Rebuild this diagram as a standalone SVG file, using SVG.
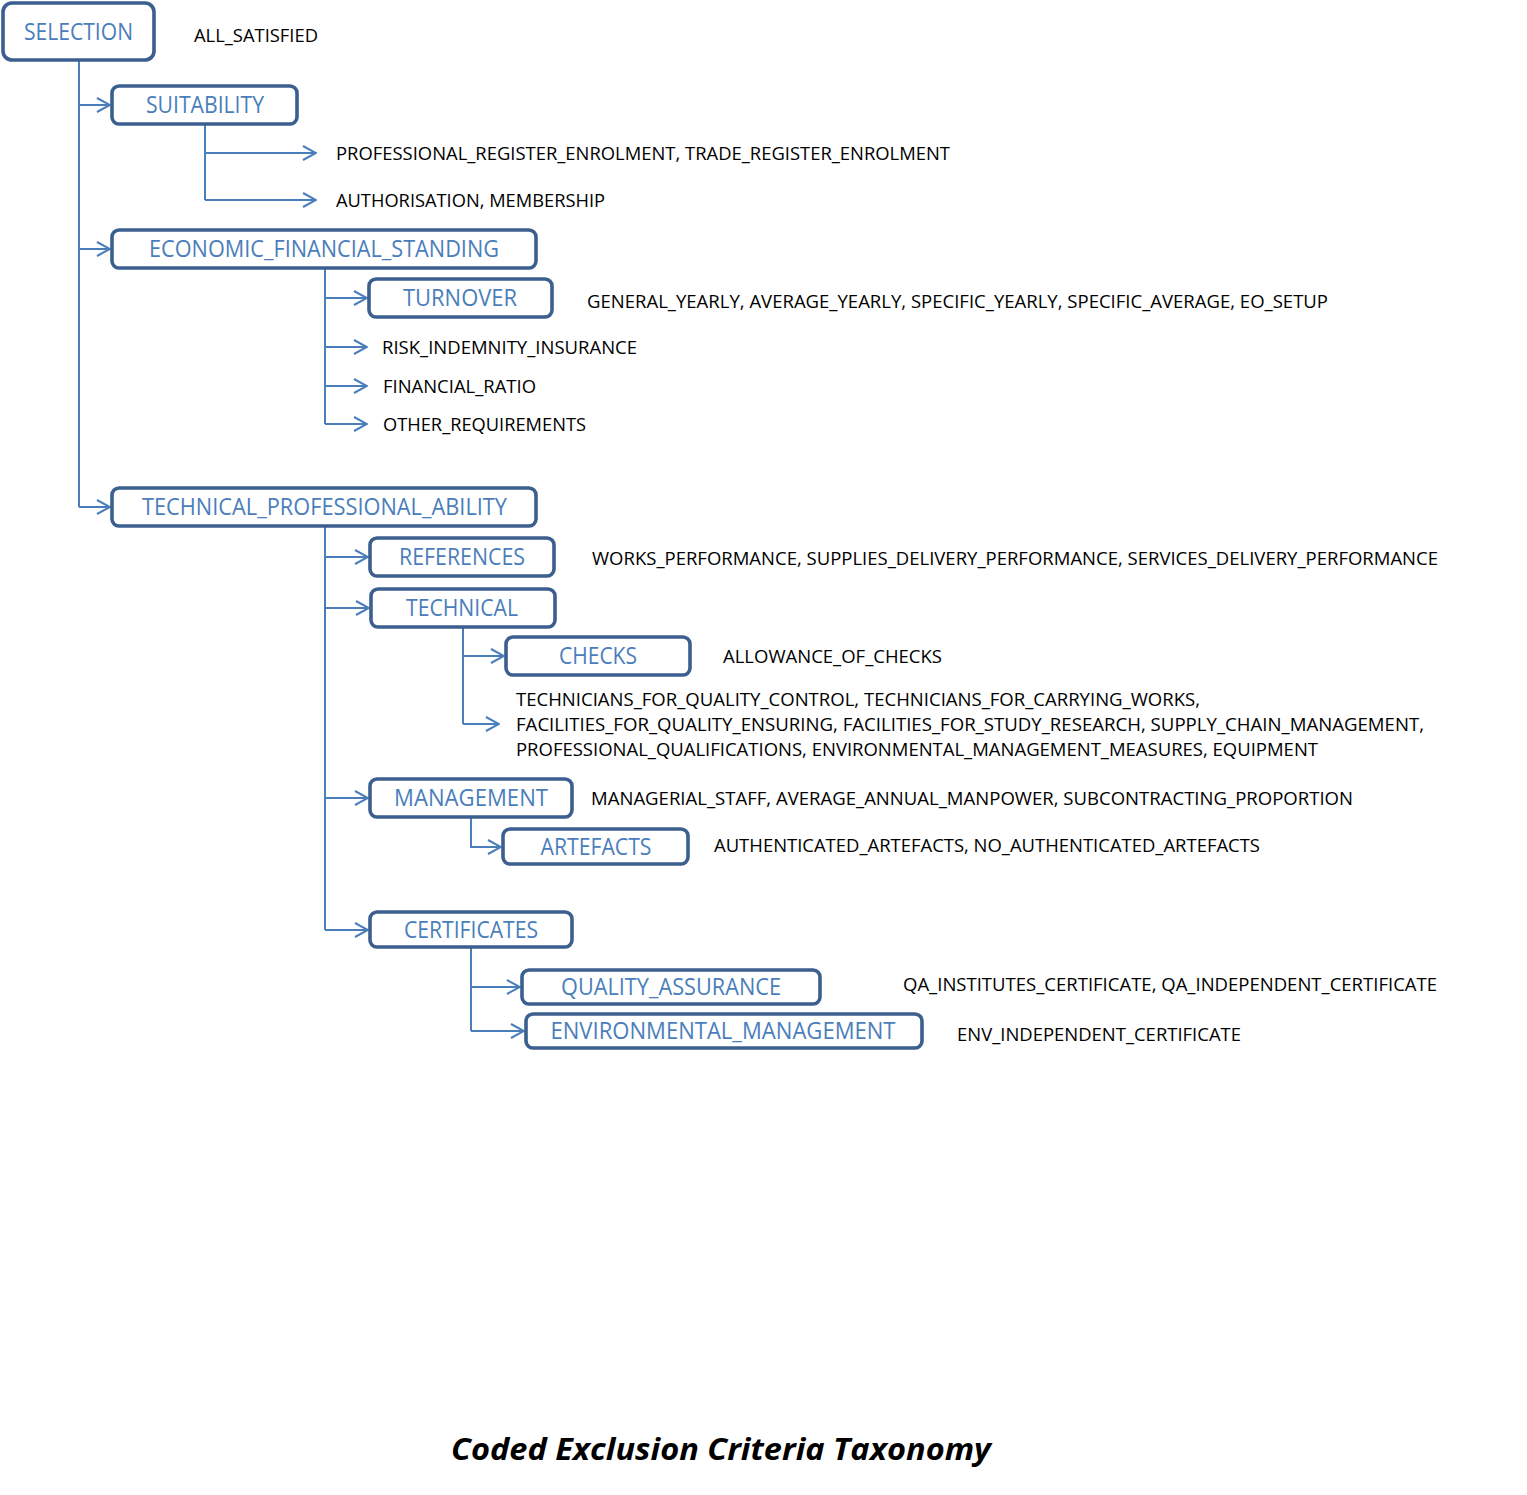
<svg xmlns="http://www.w3.org/2000/svg" width="1527" height="1495" viewBox="0 0 1527 1495">
<style>
.box{fill:#fff;stroke:#3B5F8E;stroke-width:3.6;}
.lbl{font-family:"Open Sans","Liberation Sans",sans-serif;font-size:23px;fill:#4A7EBB;text-anchor:middle;}
.txt{font-family:"Open Sans","Liberation Sans",sans-serif;font-size:17.5px;fill:#000;}
.con{fill:none;stroke:#4A7EBB;stroke-width:2;}
.title{font-family:"Open Sans","Liberation Sans",sans-serif;font-size:31px;font-weight:bold;font-style:italic;fill:#000;text-anchor:middle;}
</style>
<defs>
<marker id="arr" markerUnits="userSpaceOnUse" markerWidth="16" markerHeight="16" viewBox="0 0 16 16" refX="15" refY="8" orient="auto">
<path d="M2,1 L15,8 L2,15" fill="none" stroke="#4A7EBB" stroke-width="2"/>
</marker>
</defs>
<rect width="1527" height="1495" fill="#fff"/>
<g id="connectors">
<path class="con" d="M79,61 V507"/>
<path class="con" d="M79,105 H110" marker-end="url(#arr)"/>
<path class="con" d="M79,249 H110" marker-end="url(#arr)"/>
<path class="con" d="M79,507 H110" marker-end="url(#arr)"/>
<path class="con" d="M205,125 V200"/>
<path class="con" d="M205,153 H316" marker-end="url(#arr)"/>
<path class="con" d="M205,200 H316" marker-end="url(#arr)"/>
<path class="con" d="M325,269 V424"/>
<path class="con" d="M325,298 H367" marker-end="url(#arr)"/>
<path class="con" d="M325,347 H367" marker-end="url(#arr)"/>
<path class="con" d="M325,386 H367" marker-end="url(#arr)"/>
<path class="con" d="M325,424 H367" marker-end="url(#arr)"/>
<path class="con" d="M325,527 V930"/>
<path class="con" d="M325,557 H368" marker-end="url(#arr)"/>
<path class="con" d="M325,608 H369" marker-end="url(#arr)"/>
<path class="con" d="M325,798 H368" marker-end="url(#arr)"/>
<path class="con" d="M325,930 H368" marker-end="url(#arr)"/>
<path class="con" d="M463,628 V724"/>
<path class="con" d="M463,656 H504" marker-end="url(#arr)"/>
<path class="con" d="M463,724 H499" marker-end="url(#arr)"/>
<path class="con" d="M471,818 V847 H501" marker-end="url(#arr)"/>
<path class="con" d="M471,948 V1031"/>
<path class="con" d="M471,987 H520" marker-end="url(#arr)"/>
<path class="con" d="M471,1031 H524" marker-end="url(#arr)"/>
</g>
<g id="selection"><rect class="box" x="3" y="3" width="151" height="57" rx="9"/><text class="lbl" x="78.5" y="40" textLength="109" lengthAdjust="spacingAndGlyphs">SELECTION</text></g>
<text class="txt" x="194" y="42" textLength="124" lengthAdjust="spacingAndGlyphs">ALL_SATISFIED</text>
<g id="suitability"><rect class="box" x="112" y="86" width="185" height="38" rx="7"/><text class="lbl" x="205" y="113" textLength="118" lengthAdjust="spacingAndGlyphs">SUITABILITY</text></g>
<text class="txt" x="336" y="160" textLength="614" lengthAdjust="spacingAndGlyphs">PROFESSIONAL_REGISTER_ENROLMENT, TRADE_REGISTER_ENROLMENT</text>
<text class="txt" x="336" y="207" textLength="269" lengthAdjust="spacingAndGlyphs">AUTHORISATION, MEMBERSHIP</text>
<g id="economic"><rect class="box" x="112" y="230" width="424" height="38" rx="7"/><text class="lbl" x="324" y="257" textLength="350" lengthAdjust="spacingAndGlyphs">ECONOMIC_FINANCIAL_STANDING</text></g>
<g id="turnover"><rect class="box" x="369" y="279" width="183" height="38" rx="7"/><text class="lbl" x="460" y="306" textLength="114" lengthAdjust="spacingAndGlyphs">TURNOVER</text></g>
<text class="txt" x="587" y="308" textLength="741" lengthAdjust="spacingAndGlyphs">GENERAL_YEARLY, AVERAGE_YEARLY, SPECIFIC_YEARLY, SPECIFIC_AVERAGE, EO_SETUP</text>
<text class="txt" x="382" y="354" textLength="255" lengthAdjust="spacingAndGlyphs">RISK_INDEMNITY_INSURANCE</text>
<text class="txt" x="383" y="393" textLength="153" lengthAdjust="spacingAndGlyphs">FINANCIAL_RATIO</text>
<text class="txt" x="383" y="431" textLength="203" lengthAdjust="spacingAndGlyphs">OTHER_REQUIREMENTS</text>
<g id="technical_professional"><rect class="box" x="112" y="488" width="424" height="38" rx="7"/><text class="lbl" x="324.5" y="515" textLength="365" lengthAdjust="spacingAndGlyphs">TECHNICAL_PROFESSIONAL_ABILITY</text></g>
<g id="references"><rect class="box" x="370" y="538" width="184" height="38" rx="7"/><text class="lbl" x="462" y="565" textLength="126" lengthAdjust="spacingAndGlyphs">REFERENCES</text></g>
<text class="txt" x="592" y="565" textLength="846" lengthAdjust="spacingAndGlyphs">WORKS_PERFORMANCE, SUPPLIES_DELIVERY_PERFORMANCE, SERVICES_DELIVERY_PERFORMANCE</text>
<g id="technical"><rect class="box" x="371" y="589" width="184" height="38" rx="7"/><text class="lbl" x="462" y="616" textLength="112" lengthAdjust="spacingAndGlyphs">TECHNICAL</text></g>
<g id="checks"><rect class="box" x="506" y="637" width="184" height="38" rx="7"/><text class="lbl" x="598" y="664" textLength="78" lengthAdjust="spacingAndGlyphs">CHECKS</text></g>
<text class="txt" x="723" y="663" textLength="219" lengthAdjust="spacingAndGlyphs">ALLOWANCE_OF_CHECKS</text>
<text class="txt" x="516" y="706" textLength="684" lengthAdjust="spacingAndGlyphs">TECHNICIANS_FOR_QUALITY_CONTROL, TECHNICIANS_FOR_CARRYING_WORKS,</text>
<text class="txt" x="516" y="731" textLength="908" lengthAdjust="spacingAndGlyphs">FACILITIES_FOR_QUALITY_ENSURING, FACILITIES_FOR_STUDY_RESEARCH, SUPPLY_CHAIN_MANAGEMENT,</text>
<text class="txt" x="516" y="756" textLength="802" lengthAdjust="spacingAndGlyphs">PROFESSIONAL_QUALIFICATIONS, ENVIRONMENTAL_MANAGEMENT_MEASURES, EQUIPMENT</text>
<g id="management"><rect class="box" x="370" y="779" width="202" height="38" rx="7"/><text class="lbl" x="471" y="806" textLength="154" lengthAdjust="spacingAndGlyphs">MANAGEMENT</text></g>
<text class="txt" x="591" y="805" textLength="762" lengthAdjust="spacingAndGlyphs">MANAGERIAL_STAFF, AVERAGE_ANNUAL_MANPOWER, SUBCONTRACTING_PROPORTION</text>
<g id="artefacts"><rect class="box" x="503" y="829" width="185" height="35" rx="7"/><text class="lbl" x="596" y="855" textLength="111" lengthAdjust="spacingAndGlyphs">ARTEFACTS</text></g>
<text class="txt" x="714" y="852" textLength="546" lengthAdjust="spacingAndGlyphs">AUTHENTICATED_ARTEFACTS, NO_AUTHENTICATED_ARTEFACTS</text>
<g id="certificates"><rect class="box" x="370" y="912" width="202" height="35" rx="7"/><text class="lbl" x="471" y="938" textLength="134" lengthAdjust="spacingAndGlyphs">CERTIFICATES</text></g>
<g id="quality_assurance"><rect class="box" x="522" y="970" width="298" height="34" rx="7"/><text class="lbl" x="671" y="995" textLength="220" lengthAdjust="spacingAndGlyphs">QUALITY_ASSURANCE</text></g>
<text class="txt" x="903" y="991" textLength="534" lengthAdjust="spacingAndGlyphs">QA_INSTITUTES_CERTIFICATE, QA_INDEPENDENT_CERTIFICATE</text>
<g id="environmental_management"><rect class="box" x="526" y="1014" width="396" height="34" rx="7"/><text class="lbl" x="723" y="1039" textLength="345" lengthAdjust="spacingAndGlyphs">ENVIRONMENTAL_MANAGEMENT</text></g>
<text class="txt" x="957" y="1041" textLength="284" lengthAdjust="spacingAndGlyphs">ENV_INDEPENDENT_CERTIFICATE</text>
<text class="title" x="721" y="1460" textLength="540" lengthAdjust="spacingAndGlyphs">Coded Exclusion Criteria Taxonomy</text>
</svg>
